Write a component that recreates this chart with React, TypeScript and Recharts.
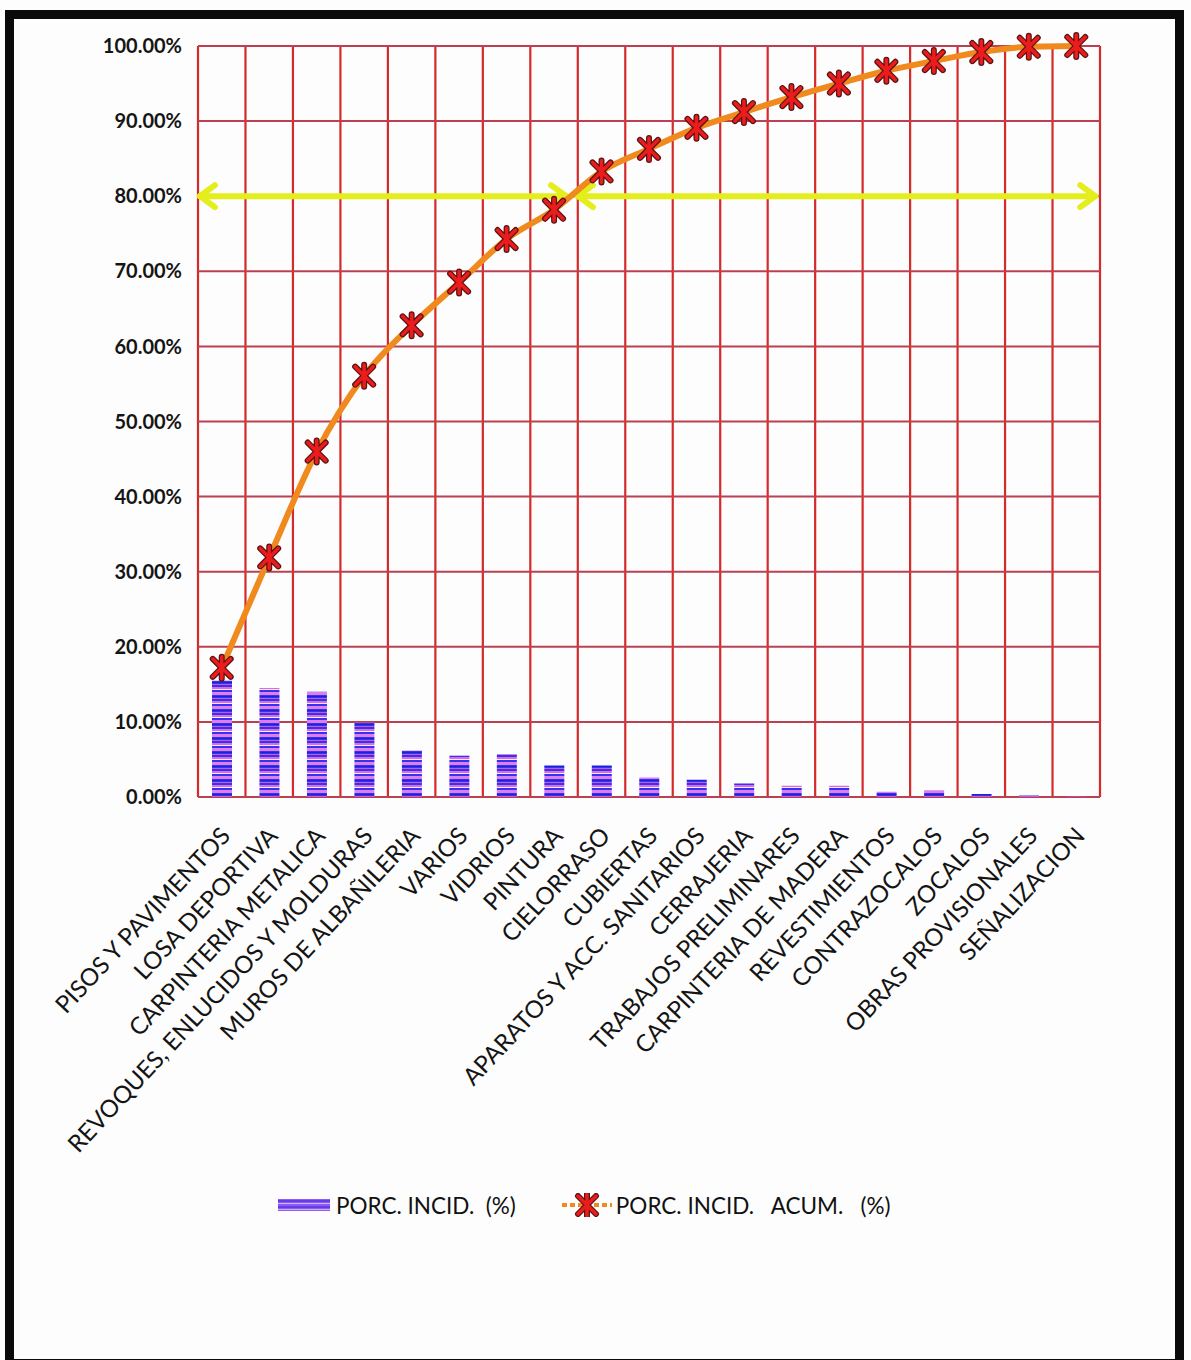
import { ComposedChart, Bar, Line, XAxis, YAxis, CartesianGrid, Legend, ReferenceLine } from "recharts"

// Partidas de obra, ordenadas por incidencia
const partidas = [
  "PISOS Y PAVIMENTOS",
  "LOSA DEPORTIVA",
  "CARPINTERIA METALICA",
  "REVOQUES, ENLUCIDOS Y MOLDURAS",
  "MUROS DE ALBAÑILERIA",
  "VARIOS",
  "VIDRIOS",
  "PINTURA",
  "CIELORRASO",
  "CUBIERTAS",
  "APARATOS Y ACC. SANITARIOS",
  "CERRAJERIA",
  "TRABAJOS PRELIMINARES",
  "CARPINTERIA DE MADERA",
  "REVESTIMIENTOS",
  "CONTRAZOCALOS",
  "ZOCALOS",
  "OBRAS PROVISIONALES",
  "SEÑALIZACION",
]

// PORC. INCID. (%)
const incidencia = [15.5, 14.5, 14.0, 9.9, 6.2, 5.5, 5.7, 4.2, 4.2, 2.6, 2.3, 1.8, 1.5, 1.5, 0.7, 0.9, 0.4, 0.2, 0.05]

// PORC. INCID. ACUM. (%)
const acumulado = [17.2, 31.9, 46.0, 56.1, 62.8, 68.5, 74.3, 78.2, 83.3, 86.3, 89.1, 91.2, 93.2, 95.0, 96.7, 98.0, 99.2, 99.9, 100]

const yTicks = [0, 10, 20, 30, 40, 50, 60, 70, 80, 90, 100]
const limitePareto = 80

const serieIncid = "PORC. INCID.  (%)"
const serieAcum = "PORC. INCID.   ACUM.   (%)"

// pos: centro de cada categoría sobre un eje numérico 0..n (para la rejilla y la flecha)
const data = partidas.map((name, i) => ({ name, pos: i + 0.5, incid: incidencia[i], acum: acumulado[i] }))
const bordes = partidas.map((_, i) => i).concat(partidas.length)

// punto donde la curva acumulada cruza el 80%
const k = acumulado.findIndex((v) => v >= limitePareto) - 1
const cruce = k + 0.5 + (limitePareto - acumulado[k]) / (acumulado[k + 1] - acumulado[k])

const FONT = "Lato, 'Open Sans', sans-serif"
const YELLOW = "#e4ee1c"

function CategoryTick({ x, y, payload }: any) {
  return (
    <g transform={`translate(${x + 10},${y + 40})`}>
      <text transform="rotate(-47)" textAnchor="end" fontFamily={FONT} fontSize={24} fill="#141414">
        {payload.value}
      </text>
    </g>
  )
}

function Asterisk({ cx, cy }: any) {
  if (cx == null || cy == null) return null
  const d = `M${cx - 9},${cy - 9}L${cx + 9},${cy + 9}M${cx + 9},${cy - 9}L${cx - 9},${cy + 9}M${cx},${cy - 11}L${cx},${cy + 11}`
  return (
    <g>
      <path d={d} stroke="#5a1414" strokeWidth={6} strokeLinecap="round" />
      <path d={d} stroke="#ec1c1c" strokeWidth={3.5} strokeLinecap="round" />
    </g>
  )
}

// flecha amarilla con punta abierta en ambos extremos
function DoubleArrow(props: any) {
  const { x1, y1, x2, y2 } = props
  const h = 15
  const w = 11
  return (
    <g stroke={YELLOW} strokeWidth={6} strokeLinecap="round" strokeLinejoin="round" fill="none">
      <line x1={x1} y1={y1} x2={x2} y2={y2} />
      <polyline points={`${x1 + h},${y1 - w} ${x1},${y1} ${x1 + h},${y1 + w}`} />
      <polyline points={`${x2 - h},${y2 - w} ${x2},${y2} ${x2 - h},${y2 + w}`} />
    </g>
  )
}

function StripedIcon() {
  return (
    <svg width={52} height={14}>
      <rect x={0} y={1} width={52} height={12} fill="url(#legendStripes)" />
    </svg>
  )
}

function LineIcon() {
  return (
    <svg width={54} height={24}>
      <line x1={2} y1={12} x2={52} y2={12} stroke="#f08a1e" strokeWidth={4} strokeDasharray="5 3" />
      <Asterisk cx={27} cy={12} />
    </svg>
  )
}

function LegendContent() {
  return (
    <div
      style={{
        display: "flex",
        alignItems: "center",
        height: 30,
        paddingLeft: 278,
        fontFamily: FONT,
        fontSize: 22.5,
        color: "#111",
        whiteSpace: "pre",
      }}
    >
      <StripedIcon />
      <span style={{ marginLeft: 6 }}>{serieIncid}</span>
      <span style={{ marginLeft: 44, display: "flex", alignItems: "center" }}>
        <LineIcon />
      </span>
      <span style={{ marginLeft: 2 }}>{serieAcum}</span>
    </div>
  )
}

export default function App() {
  return (
    <div style={{ position: "absolute", left: 0, top: 0, width: 1191, height: 1360, background: "#fdfdfd", overflow: "hidden" }}>
      <div
        style={{
          position: "absolute",
          left: 5,
          top: 10,
          width: 1161,
          height: 1340,
          border: "9px solid #0a0a0a",
        }}
      />
      <svg width={0} height={0} style={{ position: "absolute" }}>
        <defs>
          <pattern id="legendStripes" patternUnits="userSpaceOnUse" width={52} height={6}>
            <rect width={52} height={6} fill="#8a5cf2" />
            <rect y={2} width={52} height={2} fill="#6a3ae8" />
            <rect y={5} width={52} height={1} fill="#c8b4f8" />
          </pattern>
        </defs>
      </svg>
      <ComposedChart
        width={1191}
        height={1360}
        data={data}
        margin={{ top: 46, right: 91, left: 0, bottom: 206 }}
        style={{ position: "absolute", left: 0, top: 0 }}
      >
        <defs>
          <pattern id="barStripes" patternUnits="userSpaceOnUse" width={20} height={14}>
            <rect width={20} height={14} fill="#3434ea" />
            <rect y={1} width={20} height={2} fill="#dc6ae6" />
            <rect y={3} width={20} height={1} fill="#f4e8fa" />
            <rect y={6} width={20} height={3} fill="#e27cec" />
            <rect y={10} width={20} height={1} fill="#2020d8" />
            <rect y={12} width={20} height={1} fill="#c858e2" />
          </pattern>
        </defs>
        <CartesianGrid xAxisId="num" horizontal={false} stroke="#d42a2a" strokeWidth={2.2} />
        <CartesianGrid xAxisId="num" vertical={false} stroke="#bc4050" strokeWidth={2} />
        <XAxis
          xAxisId="cat"
          dataKey="name"
          interval={0}
          height={327}
          tickSize={0}
          tickMargin={0}
          axisLine={false}
          tickLine={false}
          tick={<CategoryTick />}
        />
        <XAxis
          xAxisId="num"
          dataKey="pos"
          type="number"
          domain={[0, partidas.length]}
          ticks={bordes}
          allowDataOverflow
          hide
        />
        <YAxis
          type="number"
          domain={[0, 100]}
          ticks={yTicks}
          width={198}
          tickSize={0}
          tickMargin={16}
          axisLine={false}
          tickLine={false}
          tickFormatter={(v: number) => `${v.toFixed(2)}%`}
          tick={{ fontFamily: FONT, fontSize: 20, fontWeight: 700, fill: "#151515" }}
        />
        <Bar xAxisId="cat" dataKey="incid" name={serieIncid} barSize={20} fill="url(#barStripes)" isAnimationActive={false} />
        <ReferenceLine
          xAxisId="num"
          segment={[{ x: 0.04, y: limitePareto }, { x: cruce - 0.1, y: limitePareto }]}
          shape={<DoubleArrow />}
        />
        <ReferenceLine
          xAxisId="num"
          segment={[{ x: cruce + 0.15, y: limitePareto }, { x: partidas.length - 0.1, y: limitePareto }]}
          shape={<DoubleArrow />}
        />
        <Line
          xAxisId="cat"
          type="monotone"
          dataKey="acum"
          name={serieAcum}
          stroke="#f08a1e"
          strokeWidth={6}
          dot={<Asterisk />}
          activeDot={false}
          isAnimationActive={false}
        />
        <Legend verticalAlign="bottom" content={<LegendContent />} wrapperStyle={{ top: 1190, left: 0, width: 1191 }} />
      </ComposedChart>
    </div>
  )
}
